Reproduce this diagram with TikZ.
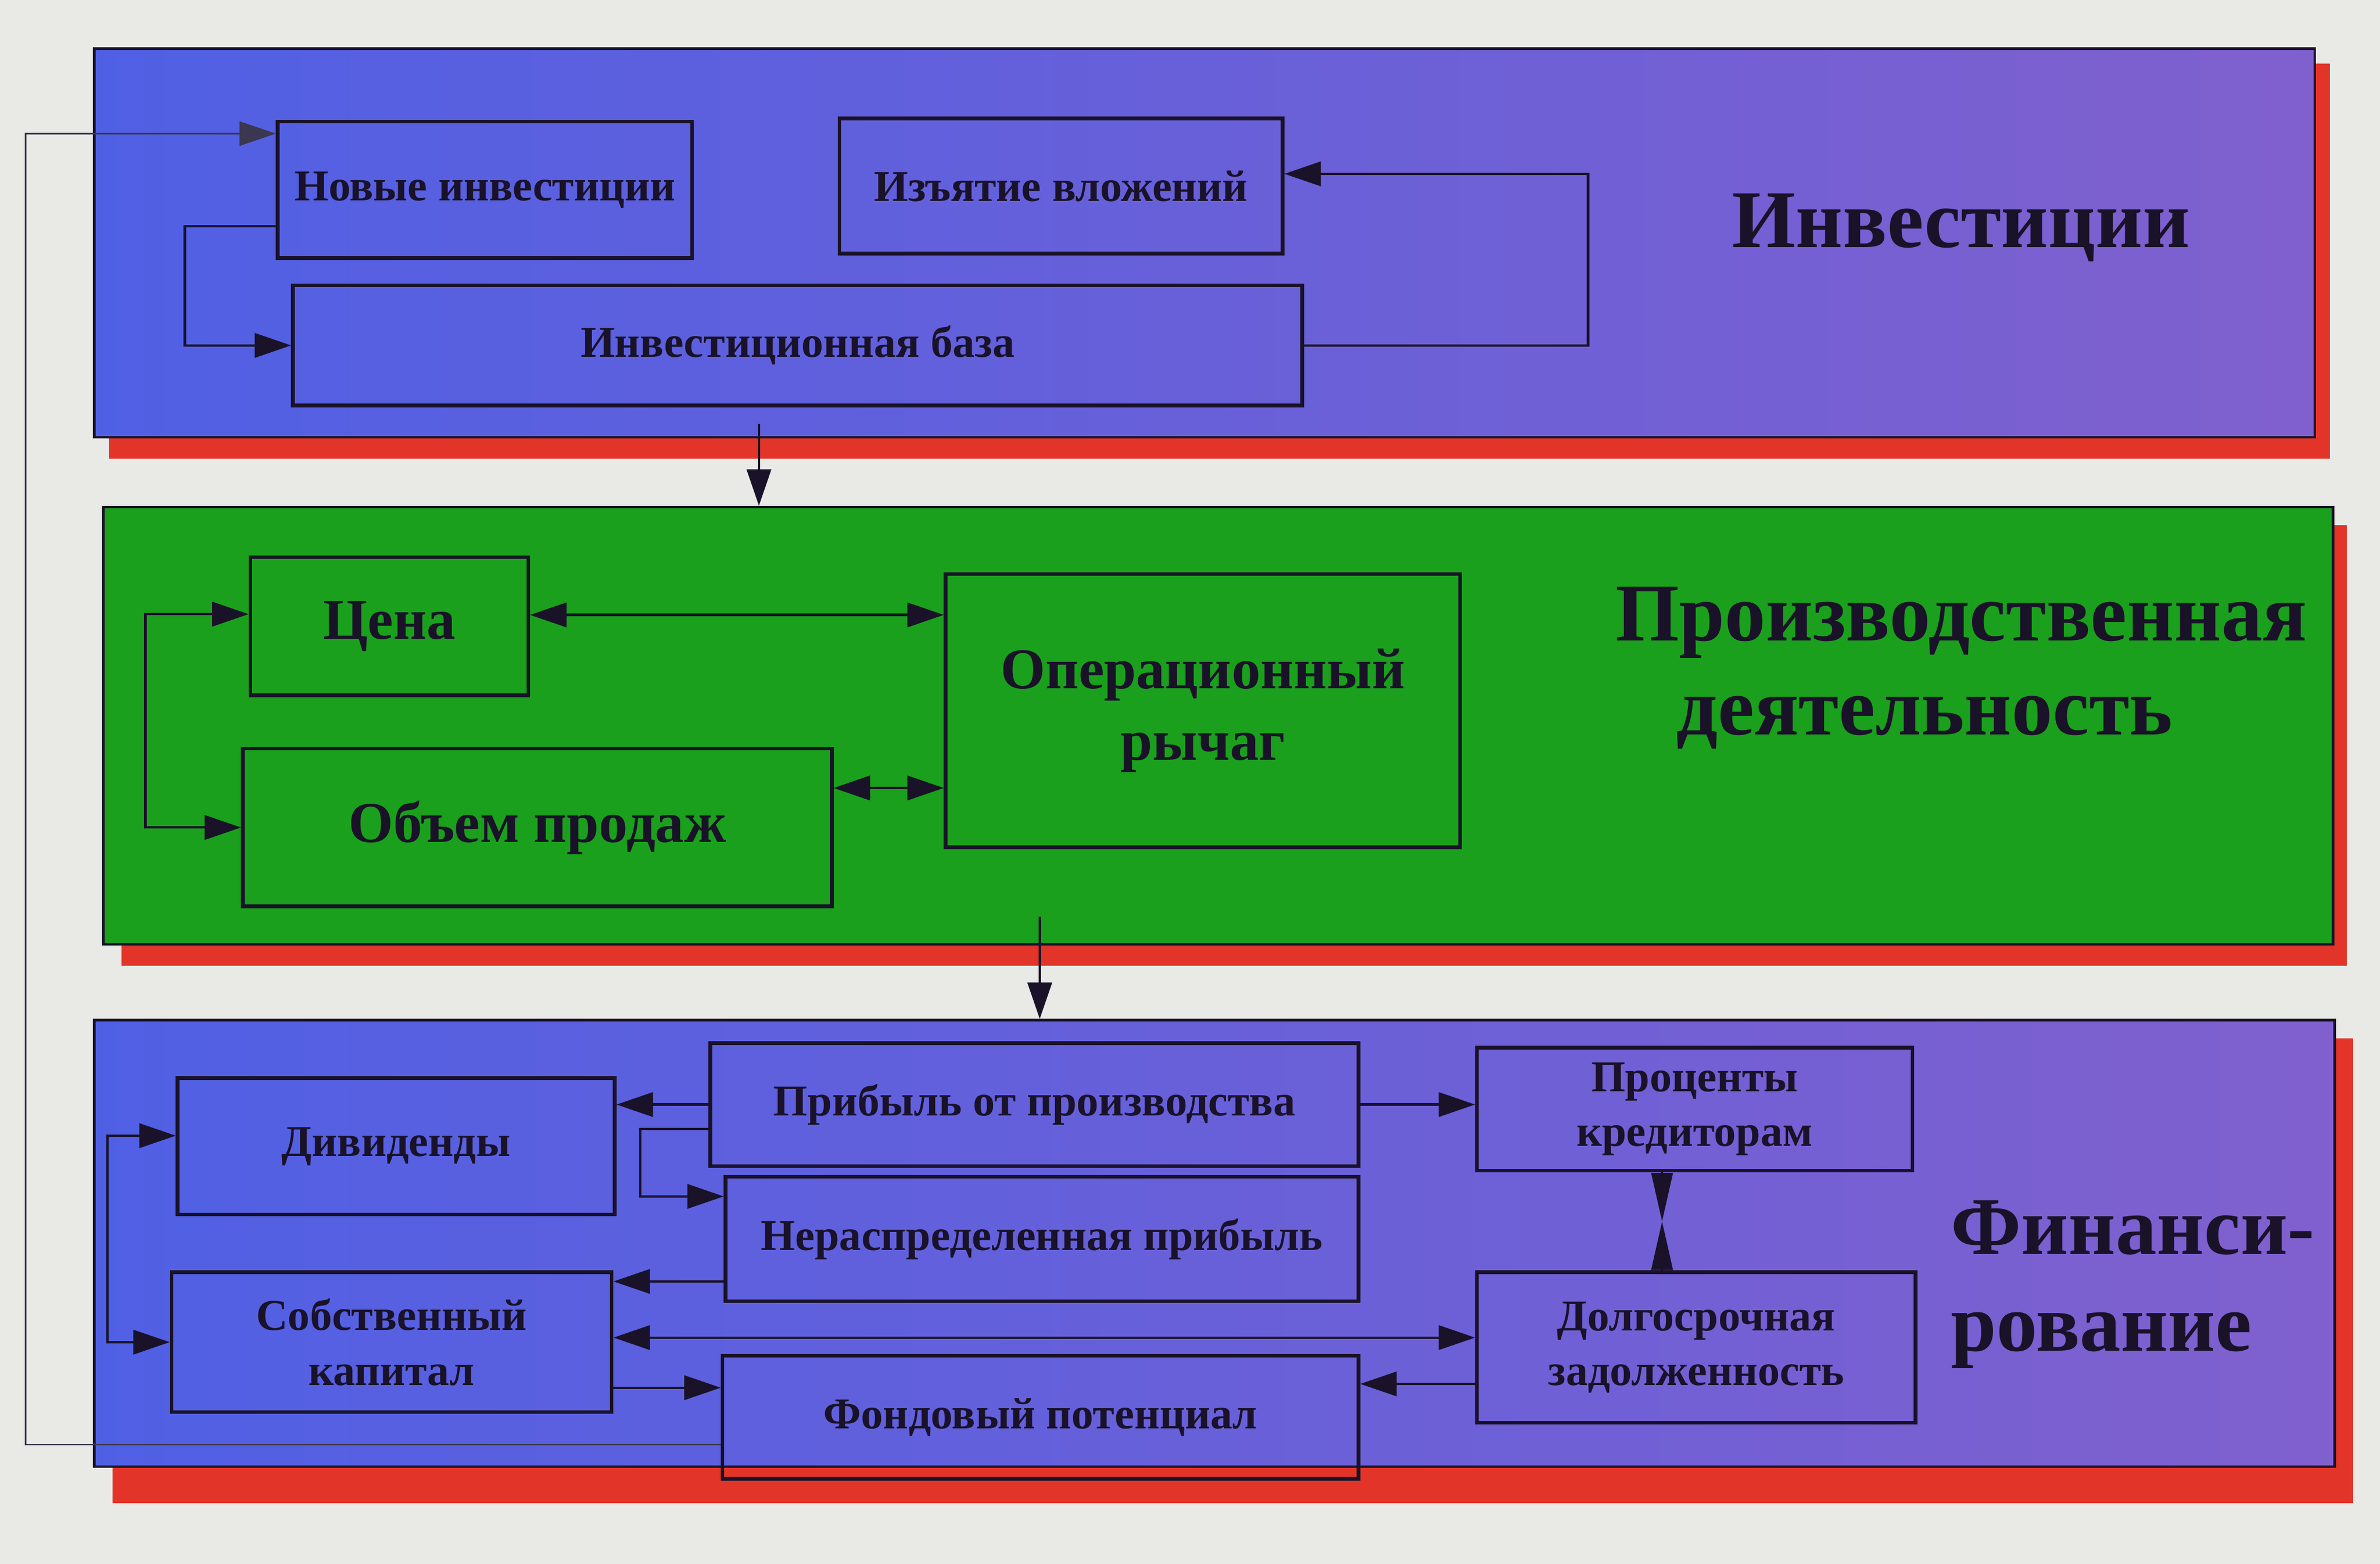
\documentclass[tikz,border=0pt]{standalone}
\usepackage{fontspec}
\setmainfont{Liberation Serif}
\usetikzlibrary{arrows.meta}
\definecolor{bgc}{RGB}{233,233,230}
\definecolor{blueL}{RGB}{80,96,228}
\definecolor{blueR}{RGB}{128,96,206}
\definecolor{grn}{RGB}{26,160,28}
\definecolor{redsh}{RGB}{226,52,40}
\definecolor{ink}{RGB}{25,18,40}
\definecolor{loopc}{RGB}{60,55,80}
\tikzset{
  panelblue/.style={draw=ink, line width=0.9pt, left color=blueL, right color=blueR, inner sep=0pt},
  panelgreen/.style={draw=ink, line width=0.9pt, fill=grn, inner sep=0pt},
  ibox/.style={draw=ink, line width=1.2pt, inner sep=0pt, align=center, text=ink,
    font=\bfseries\fontsize{14.5}{18}\selectfont},
  gbox/.style={ibox, font=\bfseries\fontsize{19}{23.5}\selectfont},
  hdr/.style={text=ink, inner sep=0pt, font=\bfseries\fontsize{27}{32}\selectfont},
  arr/.style={draw=ink, line width=0.8pt, -{Triangle[length=12pt,width=8pt]}},
  dbl/.style={draw=ink, line width=0.8pt, {Triangle[length=12pt,width=8pt]}-{Triangle[length=12pt,width=8pt]}},
  hg/.style={draw=ink, line width=0.8pt, -{Triangle[length=16pt,width=7pt]}},
  loopline/.style={draw=loopc, line width=0.5pt, -{Triangle[length=12pt,width=8pt]}},
  sz/.style 2 args={minimum width=#1, minimum height=#2}
}
\begin{document}
\begin{tikzpicture}[x=0.5pt,y=-0.5pt]
\useasboundingbox (0,0) rectangle (1568,1030);
\fill[bgc] (0,0) rectangle (1568,1030);

% shadows
\fill[redsh] (72,42) rectangle (1535,302);
\fill[redsh] (80,346) rectangle (1546,636);
\fill[redsh] (74,684) rectangle (1550,990);

% panels
\node[panelblue, sz={731.5pt}{128pt}] (P1) at (793.5,160) {};
\node[panelgreen, sz={734.5pt}{144pt}] (P2) at (802.5,478) {};
\node[panelblue, sz={738pt}{147pt}] (P3) at (800,819) {};

% headers
\node[hdr] (T1) at (1292,150) {Инвестиции};
\node[hdr] (T2a) at (1292,410) {Производственная};
\node[hdr] (T2b) at (1268,476) {деятельность};
\node[hdr, align=left, anchor=west] (T3) at (1285,846) {Финанси-\\рование};

% investment boxes
\node[ibox, sz={136.5pt}{45pt}] (A) at (319.5,125) {Новые инвестиции};
\node[ibox, sz={146pt}{44.5pt}] (B) at (699,122.5) {Изъятие вложений};
\node[ibox, sz={332.5pt}{39.5pt}] (C) at (525.5,227.5) {Инвестиционная база};

% production boxes
\node[gbox, sz={91.5pt}{45.5pt}] (K) at (256.5,412.5) {Цена};
\node[gbox, sz={169.5pt}{90pt}] (O) at (792.5,468) {Операционный\\рычаг};
\node[gbox, sz={194pt}{52pt}] (V) at (354,545) {Объем продаж};

% financing boxes
\node[ibox, sz={144pt}{45pt}] (D) at (261,755) {Дивиденды};
\node[ibox, sz={213.5pt}{40.5pt}] (E) at (681.5,727.5) {Прибыль от производства};
\node[ibox, sz={143.5pt}{40.5pt}] (F) at (1116.5,730.5) {Проценты\\кредиторам};
\node[ibox, sz={208.5pt}{41pt}] (G) at (686.5,816) {Нераспределенная прибыль};
\node[ibox, sz={145pt}{46pt}] (H) at (258,884) {Собственный\\капитал};
\node[ibox, sz={144.5pt}{49.5pt}] (I) at (1117.5,887.5) {Долгосрочная\\задолженность};
\node[ibox, sz={209.5pt}{40.5pt}] (J) at (685.5,933.5) {Фондовый потенциал};

% investment connectors
\draw[arr] (C.east) -- ++(187,0) |- ([yshift=4pt]B.east);
\draw[arr] ([yshift=-12pt]A.west) -- ++(-60,0) |- (C.west);
\draw[loopline] ([yshift=-9pt]J.west) -- ++(-458,0) |- ([yshift=18.5pt]A.west);

% between panels
\coordinate (s1) at (500,279);
\draw[arr] (s1) -- (s1 |- P2.north);
\coordinate (s2) at (685,604);
\draw[arr] (s2) -- (s2 |- P3.north);

% production connectors
\draw[dbl] ([yshift=3.75pt]K.east) -- ([yshift=3.75pt]K.east -| O.west);
\draw[dbl] ([yshift=13pt]V.east) -- ([yshift=13pt]V.east -| O.west);
\draw[dbl] ([yshift=4pt]K.west) -- ++(-68,0) |- (V.west);

% financing connectors
\draw[arr] (E.west) -- (E.west -| D.east);
\draw[arr] ([yshift=-8pt]E.west) -- ++(-45,0) |- ([yshift=14pt]G.west);
\draw[arr] (E.east) -- (E.east -| F.west);
\draw[arr] ([yshift=-14pt]G.west) -- ([yshift=-14pt]G.west -| H.east);
\draw[dbl] ([yshift=1.5pt]H.east) -- ([yshift=1.5pt]H.east -| I.west);
\draw[arr] ([yshift=-15pt]H.east) -- ([yshift=-15pt]H.east -| J.west);
\draw[arr] ([yshift=-12pt]I.west) -- ([yshift=-12pt]I.west -| J.east);
\draw[dbl] ([yshift=3.5pt]D.west) -- ++(-45,0) |- (H.west);
\coordinate (fi) at (1095,804.5);
\draw[hg] (F.south -| fi) -- (fi);
\draw[hg] (I.north -| fi) -- (fi);
\end{tikzpicture}
\end{document}
